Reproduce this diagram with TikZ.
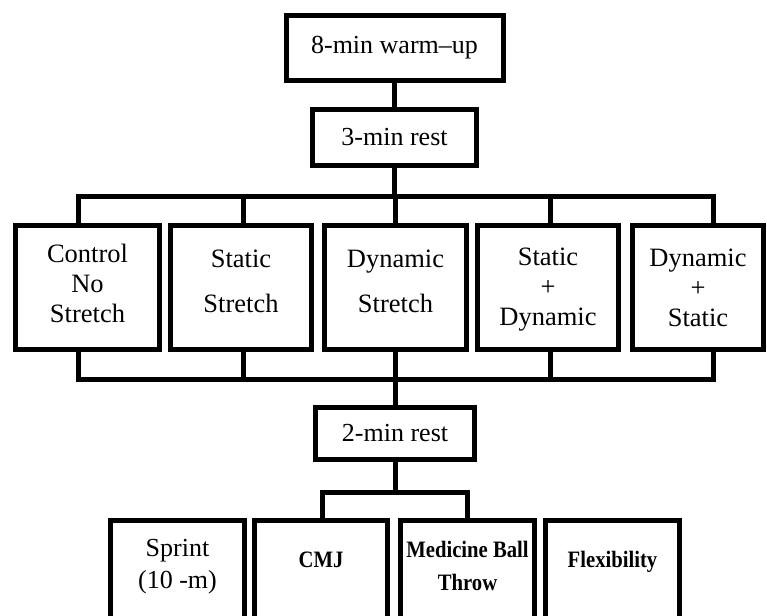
\documentclass[tikz,border=0pt]{standalone}
\usepackage{fontspec}
\setmainfont{Liberation Serif}
\newfontfamily\condfont[FakeStretch=0.88]{Liberation Serif}
\begin{document}
\begin{tikzpicture}[x=1pt,y=-1pt,
  box/.style={draw,line width=5pt,rectangle,inner sep=0pt,outer sep=0pt,align=center,line join=miter},
  topfont/.style={font=\fontsize{26}{30}\selectfont},
  midfont/.style={font=\fontsize{26.5}{30}\selectfont},
  lowfont/.style={align=center,inner sep=0pt,font=\fontsize{26}{32}\selectfont},
  boldfont/.style={align=center,inner sep=0pt,font=\condfont\bfseries\fontsize{23.5}{33}\selectfont},
  wire/.style={line width=5pt,line join=miter}]
\useasboundingbox (0,0) rectangle (767,615);
\clip (0,0) rectangle (767,615);

% top
\node[box,topfont,minimum width=217pt,minimum height=65pt] (warm) at (394.5,48) {8-min warm–up};
\node[box,topfont,minimum width=164pt,minimum height=56pt] (rest3) at (394.5,137.5) {3-min rest};

% middle row
\node[box,midfont,minimum width=144pt,minimum height=124pt,text depth=8pt] (b1) at (87.5,287.5) {Control\\No\\Stretch};
\node[box,midfont,minimum width=141pt,minimum height=124pt,text depth=12pt] (b2) at (241,287.5) {Static\\[15pt]Stretch};
\node[box,midfont,minimum width=142pt,minimum height=124pt,text depth=12pt] (b3) at (395.5,287.5) {Dynamic\\[15pt]Stretch};
\node[box,midfont,minimum width=141pt,minimum height=124pt,text depth=2pt] (b4) at (548,287.5) {Static\\+\\Dynamic};
\node[box,midfont,minimum width=131pt,minimum height=124pt] (b5) at (698,287.5) {Dynamic\\+\\Static};

\node[box,topfont,minimum width=159pt,minimum height=52pt] (rest2) at (395,433.5) {2-min rest};

% bottom row
\node[box,minimum width=134pt,minimum height=130pt] (sprint) at (177.5,585.5) {};
\node[box,minimum width=133pt,minimum height=130pt] (cmj) at (321,585.5) {};
\node[box,minimum width=134pt,minimum height=130pt] (med) at (467.5,585.5) {};
\node[box,minimum width=134pt,minimum height=130pt] (flex) at (612.5,585.5) {};

\node[lowfont] (sprintT) at (177.5,567) {Sprint\\(10 -m)};
\node[boldfont] (cmjT) at (321,560) {CMJ};
\node[boldfont] (medT) at (467.5,566) {Medicine Ball\\Throw};
\node[boldfont] (flexT) at (612.5,562) {Flexibility};

% connectors
\coordinate (t1) at (78,196);
\coordinate (t2) at (243,196);
\coordinate (t3) at (395,196);
\coordinate (t4) at (550,196);
\coordinate (t5) at (713,196);
\coordinate (u1) at (78,379);
\coordinate (u2) at (243,379);
\coordinate (u3) at (395,379);
\coordinate (u4) at (550,379);
\coordinate (u5) at (713,379);
\coordinate (v2) at (322,492);
\coordinate (v3) at (467,492);

\draw[wire] (warm) -- (rest3);
\draw[wire] (rest3.south) -- (rest3.south|-t3);
\draw[wire] (t1|-b1.north) -- (t1) -- (t5) -- (t5|-b5.north);
\draw[wire] (t2) -- (t2|-b2.north);
\draw[wire] (t3) -- (t3|-b3.north);
\draw[wire] (t4) -- (t4|-b4.north);

\draw[wire] (u1|-b1.south) -- (u1) -- (u5) -- (u5|-b5.south);
\draw[wire] (u2|-b2.south) -- (u2);
\draw[wire] (u3|-b3.south) -- (u3);
\draw[wire] (u4|-b4.south) -- (u4);
\draw[wire] (u3) -- (u3|-rest2.north);

\draw[wire] (rest2.south) -- (rest2.south|-v2);
\draw[wire] (v2|-cmj.north) -- (v2) -- (v3) -- (v3|-med.north);
\end{tikzpicture}
\end{document}
